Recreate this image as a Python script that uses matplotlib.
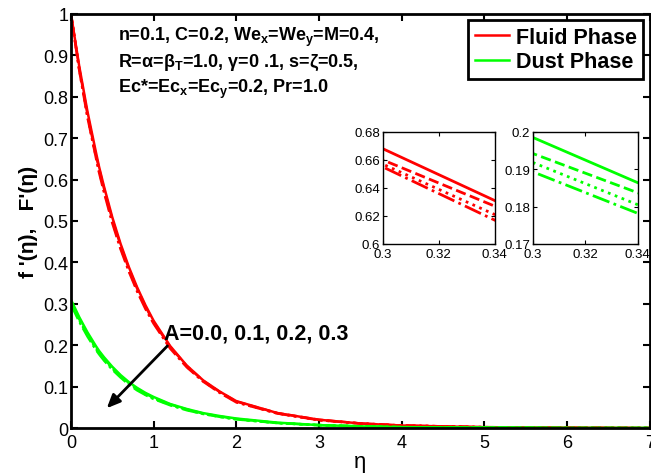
import matplotlib
matplotlib.use('Agg')
import matplotlib.pyplot as plt
from matplotlib.ticker import FormatStrFormatter

plt.rcParams['font.family'] = ['Liberation Sans', 'DejaVu Sans']
plt.rcParams['mathtext.fontset'] = 'custom'
plt.rcParams['mathtext.rm'] = 'Liberation Sans:bold'
plt.rcParams['mathtext.it'] = 'Liberation Sans:bold'
plt.rcParams['mathtext.bf'] = 'Liberation Sans:bold'
plt.rcParams['mathtext.default'] = 'rm'

# eta grid and curves (A = 0.0, 0.1, 0.2, 0.3)
eta = [0, 0.1, 0.2, 0.3, 0.34, 0.4, 0.5, 0.6, 0.7, 0.8, 0.9, 1.0, 1.2, 1.4,
       1.6, 1.8, 2.0, 2.5, 3.0, 3.5, 4.0, 5.0, 6.0, 7.0]

fluid_A00 = [1.0, 0.874, 0.764, 0.668, 0.631, 0.583, 0.509, 0.445, 0.389, 0.340,
             0.297, 0.259, 0.198, 0.151, 0.115, 0.088, 0.065, 0.036, 0.020,
             0.011, 0.006, 0.002, 0.001, 0.0]
fluid_A01 = [1.0, 0.869, 0.757, 0.660, 0.627, 0.578, 0.504, 0.441, 0.385, 0.337,
             0.294, 0.256, 0.196, 0.150, 0.114, 0.087, 0.064, 0.036, 0.020,
             0.011, 0.006, 0.002, 0.001, 0.0]
fluid_A02 = [1.0, 0.866, 0.753, 0.657, 0.621, 0.573, 0.499, 0.436, 0.381, 0.333,
             0.291, 0.254, 0.194, 0.148, 0.113, 0.086, 0.063, 0.035, 0.019,
             0.011, 0.006, 0.002, 0.001, 0.0]
fluid_A03 = [1.0, 0.864, 0.750, 0.655, 0.617, 0.569, 0.495, 0.432, 0.378, 0.330,
             0.288, 0.252, 0.192, 0.147, 0.112, 0.085, 0.062, 0.035, 0.019,
             0.011, 0.006, 0.002, 0.001, 0.0]

dust_A00 = [0.310, 0.268, 0.231, 0.1985, 0.1864, 0.171, 0.148, 0.128, 0.111,
            0.097, 0.085, 0.075, 0.058, 0.046, 0.036, 0.029, 0.023, 0.013,
            0.007, 0.004, 0.002, 0.001, 0.0, 0.0]
dust_A01 = [0.305, 0.263, 0.227, 0.1942, 0.1837, 0.168, 0.145, 0.126, 0.109,
            0.095, 0.083, 0.073, 0.057, 0.045, 0.035, 0.028, 0.022, 0.012,
            0.007, 0.004, 0.002, 0.001, 0.0, 0.0]
dust_A02 = [0.302, 0.260, 0.224, 0.1918, 0.1805, 0.165, 0.143, 0.124, 0.107,
            0.093, 0.081, 0.071, 0.056, 0.044, 0.034, 0.027, 0.021, 0.012,
            0.007, 0.004, 0.002, 0.001, 0.0, 0.0]
dust_A03 = [0.298, 0.257, 0.221, 0.1893, 0.1782, 0.163, 0.141, 0.122, 0.105,
            0.091, 0.080, 0.070, 0.055, 0.043, 0.034, 0.027, 0.021, 0.012,
            0.007, 0.004, 0.002, 0.001, 0.0, 0.0]

fluid = [fluid_A00, fluid_A01, fluid_A02, fluid_A03]
dust = [dust_A00, dust_A01, dust_A02, dust_A03]
styles = ['-', '--', ':', '-.']
red = (1, 0, 0)
green = (0, 1, 0)

fig = plt.figure(figsize=(6.51, 4.77), dpi=100)
ax = fig.add_axes([0.109, 0.1006, 0.889, 0.868])

for i in range(4):
    ax.plot(eta, fluid[i], color=red, ls=styles[i], lw=1.8,
            label='Fluid Phase' if i == 0 else None)
for i in range(4):
    ax.plot(eta, dust[i], color=green, ls=styles[i], lw=1.8,
            label='Dust Phase' if i == 0 else None)

ax.set_xlim(0, 7)
ax.set_ylim(0, 1)
ax.set_xticks(range(0, 8))
ax.set_yticks([i / 10 for i in range(11)])
ax.yaxis.set_major_formatter(FormatStrFormatter('%g'))
ax.tick_params(direction='in', top=True, right=True, labelsize=13, width=1.5,
               length=5)
ax.tick_params(axis='y', pad=2)
ax.tick_params(axis='x', pad=4)
for s in ax.spines.values():
    s.set_linewidth(2)

ax.set_xlabel('η', fontsize=16, labelpad=0)
ax.set_ylabel("f '(η),   F'(η)", fontsize=15, fontweight='bold', labelpad=4)

leg = ax.legend(loc='upper right', fontsize=15.5, handlelength=1.6,
                handletextpad=0.3, borderaxespad=0.3, fancybox=False,
                framealpha=1, borderpad=0.3, labelspacing=0.15)
leg.get_frame().set_edgecolor('black')
leg.get_frame().set_linewidth(2)
for t in leg.get_texts():
    t.set_fontweight('bold')

ax.text(0.57, 0.975, 'n=0.1, C=0.2, We$_x$=We$_y$=M=0.4,\n'
        'R=α=β$_T$=1.0, γ=0 .1, s=ζ=0.5,\n'
        'Ec*=Ec$_x$=Ec$_y$=0.2, Pr=1.0',
        fontsize=13, fontweight='bold', va='top', ha='left', linespacing=1.3)

ax.annotate('', xy=(0.41, 0.043), xytext=(1.19, 0.203),
            arrowprops=dict(arrowstyle='-|>,head_length=0.8,head_width=0.35',
                            color='black', lw=2))
ax.text(1.12, 0.215, 'A=0.0, 0.1, 0.2, 0.3', fontsize=15.5, fontweight='bold')

# insets
ins1 = fig.add_axes([0.588, 0.4864, 0.172, 0.235])
for i in range(4):
    ins1.plot(eta, fluid[i], color=red, ls=styles[i], lw=2)
ins1.set_xlim(0.3, 0.34)
ins1.set_ylim(0.6, 0.68)
ins1.set_xticks([0.3, 0.32, 0.34])
ins1.set_yticks([0.6, 0.62, 0.64, 0.66, 0.68])

ins2 = fig.add_axes([0.8187, 0.4864, 0.161, 0.235])
for i in range(4):
    ins2.plot(eta, dust[i], color=green, ls=styles[i], lw=2)
ins2.set_xlim(0.3, 0.34)
ins2.set_ylim(0.17, 0.2)
ins2.set_xticks([0.3, 0.32, 0.34])
ins2.set_yticks([0.17, 0.18, 0.19, 0.2])

for a in (ins1, ins2):
    a.xaxis.set_major_formatter(FormatStrFormatter('%g'))
    a.yaxis.set_major_formatter(FormatStrFormatter('%g'))
    a.tick_params(direction='in', top=True, right=True, labelsize=9.5,
                  length=3)
    a.tick_params(axis='x', pad=3)
    a.tick_params(axis='y', pad=2)
    for s in a.spines.values():
        s.set_linewidth(1)

fig.savefig('out.png', dpi=100)
